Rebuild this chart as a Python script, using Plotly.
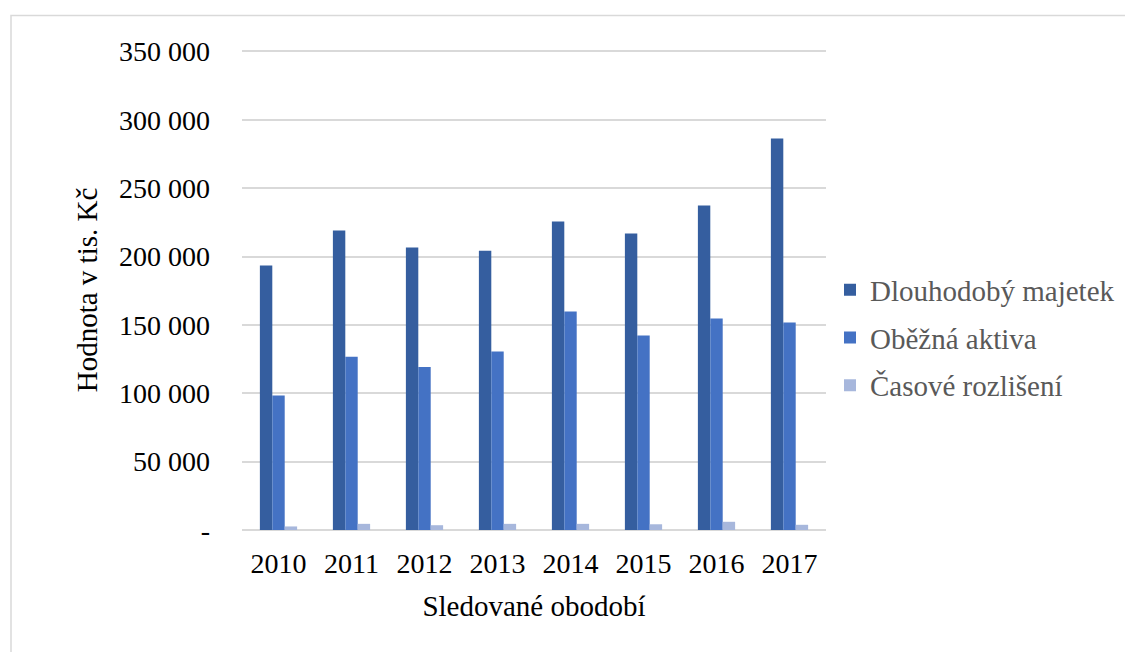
import plotly.graph_objects as go

years = ["2010", "2011", "2012", "2013", "2014", "2015", "2016", "2017"]
dlouhodoby = [193500, 219000, 206600, 204200, 225600, 216800, 237200, 286300]
obezna = [98300, 126700, 119200, 130600, 159800, 142300, 154700, 151700]
casove = [2600, 4500, 3500, 4500, 4500, 4200, 6000, 3800]

tick_vals = [0, 50000, 100000, 150000, 200000, 250000, 300000, 350000]
tick_text = ["-", "50 000", "100 000", "150 000", "200 000", "250 000", "300 000", "350 000"]

names = ["Dlouhodobý majetek", "Oběžná aktiva", "Časové rozlišení"]
colors = ["#355E9F", "#4472C4", "#A7B7DC"]

fig = go.Figure()
for i, (name, vals, col) in enumerate(zip(names, [dlouhodoby, obezna, casove], colors)):
    fig.add_trace(go.Bar(x=years, y=vals, name=name, marker_color=col,
                         marker_line_width=0, legendgroup=f"g{i}"))

OFF = 8  # page offset of the figure in the browser window
W, H = 1133, 652
# plot area in screen pixels
sx0, sx1, sy0, sy1 = 242, 826, 49.5, 530.5
L, T = sx0 - OFF, sy0 - OFF
R, B = W - (sx1 - OFF), H - (sy1 - OFF)
pw, ph = W - L - R, H - T - B

def px_x(p):
    return (p - OFF - L) / pw

def px_y(p):
    return (H - B - (p - OFF)) / ph

fig.update_layout(
    width=W, height=H,
    margin=dict(l=L, r=R, t=T, b=B, autoexpand=False),
    paper_bgcolor="white", plot_bgcolor="white",
    barmode="group", bargap=0.49, bargroupgap=0,
    font=dict(family="Liberation Serif", color="black", size=28),
    showlegend=True,
    legend=dict(x=px_x(830), y=px_y(338), xanchor="left", yanchor="middle",
                font=dict(size=29, color="#595959"), tracegroupgap=7,
                bgcolor="rgba(0,0,0,0)"),
    xaxis=dict(title=dict(text="Sledované obodobí", font=dict(size=29), standoff=17),
               showgrid=False, showline=False, ticks="", tickfont=dict(size=28),
               ticklabelstandoff=14, automargin=False),
    yaxis=dict(title=dict(text="Hodnota v tis. Kč", font=dict(size=29), standoff=12),
               range=[0, 351000], tickvals=tick_vals, ticktext=tick_text,
               showgrid=True, gridcolor="#D9D9D9", gridwidth=1.5,
               zeroline=True, zerolinecolor="#D9D9D9", zerolinewidth=1.5,
               showline=False, ticks="", ticklabelstandoff=31, tickfont=dict(size=28),
               automargin=False),
    shapes=[dict(type="rect", xref="paper", yref="paper",
                 x0=px_x(11), x1=px_x(1150), y0=px_y(670), y1=px_y(15),
                 line=dict(color="#D9D9D9", width=1.5), fillcolor="rgba(0,0,0,0)",
                 layer="below")],
)

fig.write_html("out.html")
